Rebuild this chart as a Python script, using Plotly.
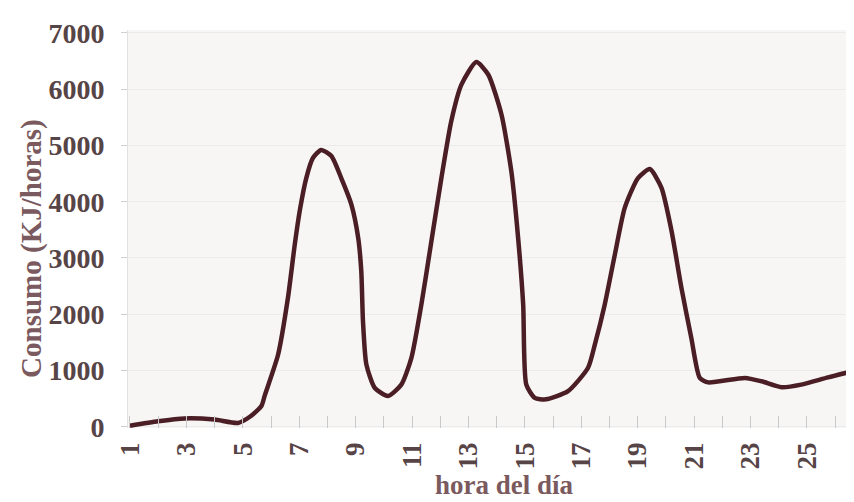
import plotly.graph_objects as go

# Data
hora = [1.0, 2.0, 2.94, 4.0, 4.83, 5.25, 5.66, 5.78, 6.25, 6.6, 6.84, 7.02, 7.25, 7.49, 7.78,
        8.14, 8.49, 8.85, 9.09, 9.2, 9.26, 9.38, 9.68, 10.15, 10.62, 10.98, 11.33, 11.63,
        12.04, 12.39, 12.75, 13.28, 13.7, 14.17, 14.52, 14.76, 14.94, 15.05, 15.35, 15.75,
        16.53, 17.24, 17.48, 17.83, 18.19, 18.54, 19.01, 19.43, 19.84, 20.2, 20.55, 20.9,
        21.2, 21.5, 22.8, 23.39, 24.1, 24.8, 25.75, 26.64]
consumo = [20, 100, 150, 130, 70, 180, 370, 560, 1280, 2290, 3230, 3840, 4420, 4780, 4920,
           4810, 4420, 3950, 3360, 2770, 1880, 1110, 690, 550, 750, 1230, 2170, 3120,
           4420, 5430, 6080, 6480, 6260, 5550, 4540, 3360, 2170, 750, 515, 490,
           634, 1050, 1460, 2170, 3060, 3890, 4420, 4580, 4250, 3480, 2470, 1580,
           870, 790, 870, 810, 705, 750, 880, 990]

x_tick_vals = list(range(1, 26, 2))
x_tick_text = [str(v) for v in x_tick_vals]
y_tick_vals = [0, 1000, 2000, 3000, 4000, 5000, 6000, 7000]

titulo_x = "hora del día"
titulo_y = "Consumo (KJ/horas)"

font_fam = "Liberation Serif, Times New Roman, serif"
tick_color = "#564446"
title_color = "#7a5a5e"
line_color = "#4b1e25"

fig = go.Figure()
fig.add_trace(go.Scatter(
    x=hora, y=consumo, mode="lines",
    line=dict(color=line_color, width=4.5, shape="spline", smoothing=0.6),
    hoverinfo="x+y", showlegend=False,
))

fig.update_layout(
    width=854, height=502,
    margin=dict(l=120, r=4, t=22, b=82),
    paper_bgcolor="white",
    plot_bgcolor="#f7f6f5",
    font=dict(family=font_fam, color=tick_color),
    xaxis=dict(
        range=[0.93, 26.81],
        tickmode="array", tickvals=x_tick_vals, ticktext=x_tick_text,
        tickangle=-90,
        tickfont=dict(family=font_fam, size=27, color=tick_color, weight=700),
        ticks="inside", ticklen=12, tickcolor="#c9c9c9", tickwidth=1,
        minor=dict(dtick=1, tick0=0, ticks="inside", ticklen=12, tickcolor="#c9c9c9", showgrid=False),
        showgrid=False, zeroline=False, showline=False,
        ticklabelstandoff=8,
    ),
    yaxis=dict(
        range=[-20, 7050],
        tickmode="array", tickvals=y_tick_vals,
        tickfont=dict(family=font_fam, size=28, color=tick_color, weight=700),
        ticks="outside", ticklen=6, tickcolor="#d0d0d0",
        showgrid=True, gridcolor="#ebebeb", gridwidth=1,
        zeroline=False, showline=True, linecolor="#e2e2e2",
        ticklabelstandoff=11,
    ),
    annotations=[
        dict(text=titulo_x, xref="paper", yref="paper", x=0.516, y=-0.187,
             xanchor="center", yanchor="bottom", showarrow=False,
             font=dict(family=font_fam, size=27, color=title_color, weight=700)),
        dict(text=titulo_y, xref="paper", yref="paper", x=-0.1315, y=0.45,
             xanchor="center", yanchor="middle", showarrow=False, textangle=-90,
             font=dict(family=font_fam, size=29, color=title_color, weight=700)),
    ],
)

fig.write_html("out.html")
